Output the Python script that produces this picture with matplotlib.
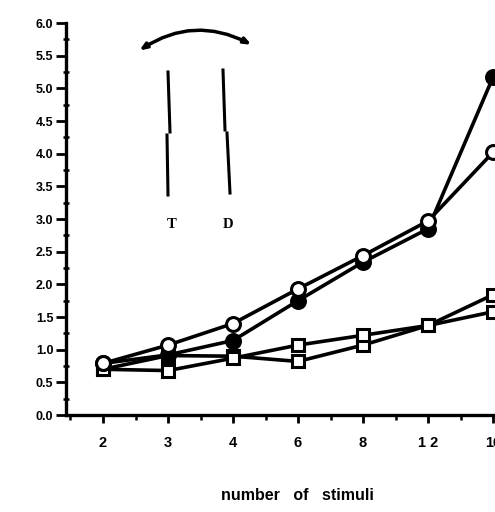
import matplotlib
matplotlib.use("Agg")
import matplotlib.pyplot as plt
from matplotlib.ticker import MultipleLocator, FixedLocator
from matplotlib.patches import FancyArrowPatch
from matplotlib.lines import Line2D

# ---- data ----
stimuli = ["2", "3", "4", "6", "8", "1 2", "16"]
filled_circles = [0.79, 0.92, 1.14, 1.75, 2.34, 2.85, 5.17]
open_circles = [0.79, 1.07, 1.40, 1.93, 2.44, 2.97, 4.02]
squares_a = [0.70, 0.91, 0.90, 0.82, 1.07, 1.37, 1.58]
squares_b = [0.70, 0.68, 0.87, 1.07, 1.22, 1.37, 1.84]
yticks = [0.0, 0.5, 1.0, 1.5, 2.0, 2.5, 3.0, 3.5, 4.0, 4.5, 5.0, 5.5, 6.0]

W, H = 495, 512
fig = plt.figure(figsize=(W / 100, H / 100), dpi=100)
plt.rcParams['font.family'] = ['Liberation Sans', 'DejaVu Sans']

# axes placement in pixel units
ax_left, ax_bottom_px, ax_top_px = 66, 415, 23
x0_px, step_px = 103, 65.0
xmin = -(x0_px - ax_left) / step_px
xmax = 6.3
ax_right = x0_px + xmax * step_px
ax = fig.add_axes([ax_left / W, 1 - ax_bottom_px / H,
                   (ax_right - ax_left) / W, (ax_bottom_px - ax_top_px) / H])

x = list(range(len(stimuli)))
lw = 2.6
ax.plot(x, squares_a, '-s', color='black', lw=lw, ms=9, mfc='white',
        mec='black', mew=2.2, zorder=3, clip_on=False)
ax.plot(x, squares_b, '-s', color='black', lw=lw, ms=9, mfc='white',
        mec='black', mew=2.2, zorder=3, clip_on=False)
ax.plot(x, filled_circles, '-o', color='black', lw=lw, ms=10, mfc='black',
        mec='black', mew=2.2, zorder=4, clip_on=False)
ax.plot(x, open_circles, '-o', color='black', lw=lw, ms=10, mfc='white',
        mec='black', mew=2.2, zorder=5, clip_on=False)

ax.set_xlim(xmin, xmax)
ax.set_ylim(0, 6.0)
ax.set_xticks(x)
ax.set_xticklabels(stimuli)
ax.xaxis.set_minor_locator(FixedLocator([i + 0.5 for i in range(-1, 7)]))
ax.set_yticks(yticks)
ax.set_yticklabels([f"{v:.1f}" for v in yticks])
ax.yaxis.set_minor_locator(MultipleLocator(0.25))

for s in ['top', 'right']:
    ax.spines[s].set_visible(False)
for s in ['left', 'bottom']:
    ax.spines[s].set_linewidth(2.4)

ax.tick_params(axis='y', which='major', direction='out', length=7, width=2.0,
               labelsize=9, pad=2)
ax.tick_params(axis='y', which='minor', direction='inout', length=4, width=1.8)
ax.tick_params(axis='x', which='major', direction='out', length=6, width=2.0,
               labelsize=10.5, pad=9)
ax.tick_params(axis='x', which='minor', direction='out', length=3.5, width=1.8)
for lab in ax.get_xticklabels() + ax.get_yticklabels():
    lab.set_fontweight('bold')

fig.text(297 / W, 1 - 495 / H, "number   of   stimuli", ha='center', va='center',
         fontsize=11.5, fontweight='bold')

# ---- schematic annotation (arc with arrows, broken lines, T and D) ----
def P(px, py):
    return (px / W, 1 - py / H)

arc = FancyArrowPatch(P(137, 52), P(254, 46), transform=fig.transFigure,
                      connectionstyle="arc3,rad=-0.3",
                      arrowstyle="<|-|>,head_length=4,head_width=1.6",
                      color='black', lw=2.5)
fig.add_artist(arc)
segments = [((168, 72), (170, 132)), ((167, 135), (168, 195)),
            ((223, 70), (225, 130)), ((227, 133), (230, 193))]
for (a, b) in segments:
    fig.add_artist(Line2D([P(*a)[0], P(*b)[0]], [P(*a)[1], P(*b)[1]],
                          transform=fig.transFigure, color='black', lw=2.2))
fig.text(*P(172, 224), "T", ha='center', va='center', fontsize=10.5,
         fontweight='bold', family=['Liberation Serif', 'DejaVu Serif'])
fig.text(*P(228, 224), "D", ha='center', va='center', fontsize=10.5,
         fontweight='bold', family=['Liberation Serif', 'DejaVu Serif'])

fig.savefig("out.png", dpi=100)
